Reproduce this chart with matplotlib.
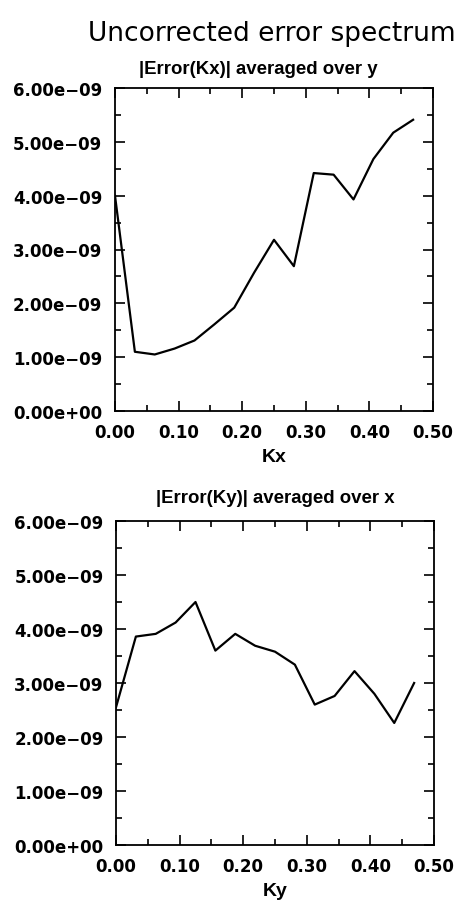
import numpy as np
import matplotlib
matplotlib.use("Agg")
import matplotlib.pyplot as plt
from matplotlib.ticker import MultipleLocator, FuncFormatter

# wavenumbers 0 .. 15/32
k = [0.0, 0.03125, 0.0625, 0.09375, 0.125, 0.15625, 0.1875, 0.21875,
     0.25, 0.28125, 0.3125, 0.34375, 0.375, 0.40625, 0.4375, 0.46875]

err_kx = [4.00e-9, 1.10e-9, 1.05e-9, 1.16e-9, 1.31e-9, 1.61e-9, 1.92e-9, 2.57e-9,
          3.18e-9, 2.69e-9, 4.42e-9, 4.39e-9, 3.93e-9, 4.68e-9, 5.17e-9, 5.41e-9]
err_ky = [2.55e-9, 3.86e-9, 3.91e-9, 4.12e-9, 4.50e-9, 3.60e-9, 3.91e-9, 3.69e-9,
          3.58e-9, 3.34e-9, 2.60e-9, 2.76e-9, 3.22e-9, 2.80e-9, 2.26e-9, 3.00e-9]

plt.rcParams['font.family'] = ['Liberation Sans', 'DejaVu Sans']


def sci(v, pos):
    s = "%.2e" % v
    return s.replace("-", "\u2212")


def style_ax(ax, xlabel, title, title_x, title_pad):
    ax.set_xlim(0, 0.5)
    ax.set_ylim(0, 6e-9)
    ax.xaxis.set_major_locator(MultipleLocator(0.1))
    ax.xaxis.set_minor_locator(MultipleLocator(0.05))
    ax.yaxis.set_major_locator(MultipleLocator(1e-9))
    ax.yaxis.set_minor_locator(MultipleLocator(0.5e-9))
    ax.xaxis.set_major_formatter(FuncFormatter(lambda v, p: "%.2f" % v))
    ax.yaxis.set_major_formatter(FuncFormatter(sci))
    ax.tick_params(which='both', direction='in', top=True, right=True, width=1.2)
    ax.tick_params(which='major', length=7)
    ax.tick_params(which='minor', length=4)
    ax.tick_params(axis='y', pad=9)
    ax.tick_params(axis='x', pad=9)
    for lab in ax.get_xticklabels() + ax.get_yticklabels():
        lab.set_fontweight('bold')
        lab.set_fontfamily('DejaVu Sans')
        lab.set_fontsize(12)
    for sp in ax.spines.values():
        sp.set_linewidth(1.3)
    ax.set_xlabel(xlabel, fontsize=14, fontweight='bold', labelpad=5)
    ax.set_title(title, fontsize=13.4, fontweight='bold', pad=title_pad, x=title_x)


fig = plt.figure(figsize=(4.66, 9.12), dpi=100)
W, H = 466.0, 912.0
ax1 = fig.add_axes([115 / W, 1 - 412 / H, (433 - 115) / W, (412 - 89) / H])
ax2 = fig.add_axes([116 / W, 1 - 846 / H, (434 - 116) / W, (846 - 522) / H])

ax1.plot(k, err_kx, color='black', lw=1.6)
ax2.plot(k, err_ky, color='black', lw=1.6)

style_ax(ax1, "Kx", "|Error(Kx)| averaged over y", 0.45, 11)
style_ax(ax2, "Ky", "|Error(Ky)| averaged over x", 0.5, 14)

fig.text(272 / W, 1 - 41 / H, "Uncorrected error spectrum", fontsize=19,
         family='DejaVu Sans', ha='center', va='baseline')

fig.savefig("out.png", dpi=100)
